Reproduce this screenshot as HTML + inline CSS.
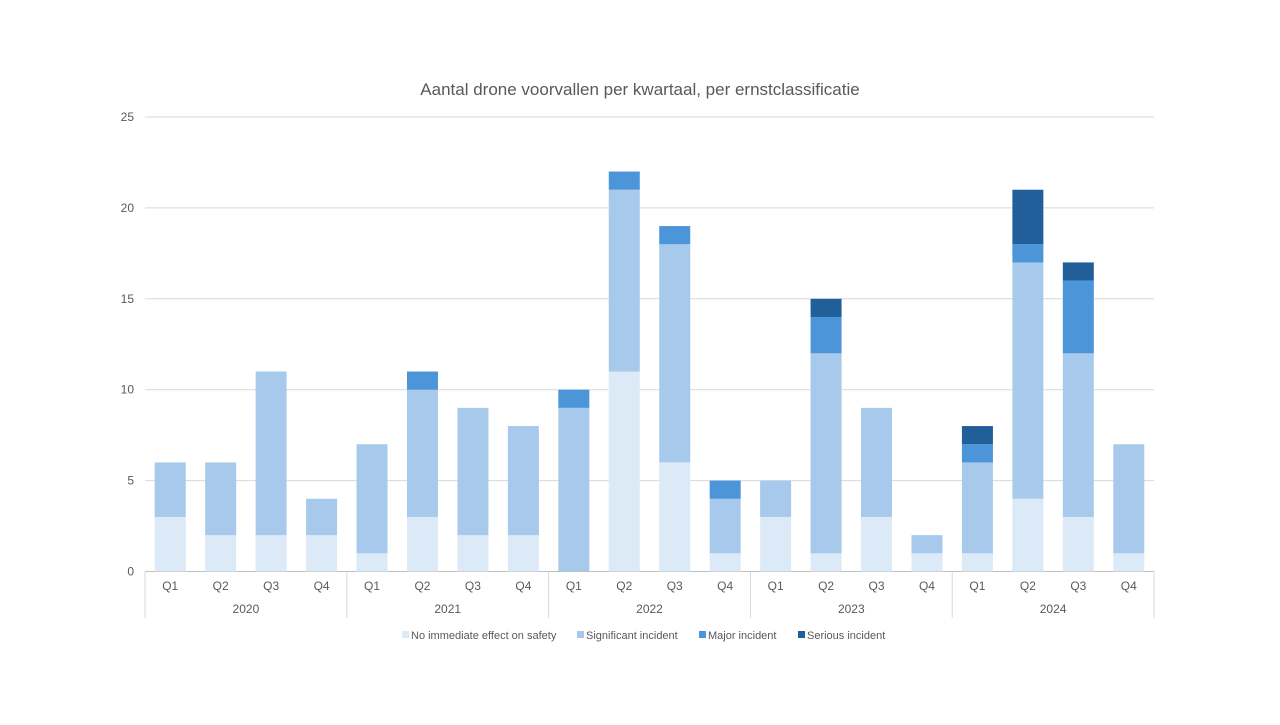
<!DOCTYPE html>
<html><head><meta charset="utf-8"><style>
body{margin:0;background:#fff;font-family:"Liberation Sans",sans-serif}
svg text{font-family:"Liberation Sans",sans-serif;fill:#595959}
</style></head><body>
<svg id="chart" width="1280" height="720" xmlns="http://www.w3.org/2000/svg">
<rect width="1280" height="720" fill="#fff"/>
<text x="640" y="95" text-anchor="middle" font-size="17">Aantal drone voorvallen per kwartaal, per ernstclassificatie</text>
<g id="grid"></g><g id="bars"></g><g id="axis"></g><g id="legend"></g>
</svg>
<script>
const years=["2020","2021","2022","2023","2024"];
const quarters=["Q1","Q2","Q3","Q4"];
const seriesNames=["No immediate effect on safety","Significant incident","Major incident","Serious incident"];
const noEffect=[3,2,2,2, 1,3,2,2, 0,11,6,1, 3,1,3,1, 1,4,3,1];
const significant=[3,4,9,2, 6,7,7,6, 9,10,12,3, 2,11,6,1, 5,13,9,6];
const major=[0,0,0,0, 0,1,0,0, 1,1,1,1, 0,2,0,0, 1,1,4,0];
const serious=[0,0,0,0, 0,0,0,0, 0,0,0,0, 0,1,0,0, 1,3,1,0];
const yTicks=[0,5,10,15,20,25];
const colors=["#dce9f6","#a7caec","#4d95d9","#215f9a"];
const NS="http://www.w3.org/2000/svg";
const x0=145,x1=1154,yb=571.5,yt=117,ymax=25;
const n=years.length*quarters.length,cw=(x1-x0)/n,bw=31;
const y=v=>yb-(yb-yt)*v/ymax;
function mk(tag,attrs,parent){const e=document.createElementNS(NS,tag);for(const k in attrs)e.setAttribute(k,attrs[k]);parent.appendChild(e);return e;}
const G=document.getElementById("grid"),B=document.getElementById("bars"),A=document.getElementById("axis"),L=document.getElementById("legend");
yTicks.forEach(t=>{
 const l=mk("line",{x1:x0,x2:x1,y1:y(t),y2:y(t),stroke:t===0?"#bfbfbf":"#d9d9d9","stroke-width":1},G);
 
 
 const tx=mk("text",{x:134,y:y(t)+4,"text-anchor":"end","font-size":12},A);tx.textContent=t;
 
 
});
const all=[noEffect,significant,major,serious];
for(let i=0;i<n;i++){
 let acc=0;const cx=x0+cw*(i+0.5);
 all.forEach((s,si)=>{const v=s[i];if(v>0){
  const r=mk("rect",{x:cx-bw/2,y:y(acc+v),width:bw,height:y(acc)-y(acc+v),fill:colors[si]},B);
  
  
 }acc+=v;});
 const q=mk("text",{x:cx,y:590,"text-anchor":"middle","font-size":12},A);q.textContent=quarters[i%4];
 
 
}
for(let j=0;j<=years.length;j++){
 const xx=x0+cw*4*j;
 const l=mk("line",{x1:xx,x2:xx,y1:yb,y2:618,stroke:"#d9d9d9"},A);
 
 
 if(j<years.length){const t=mk("text",{x:xx+cw*2,y:613,"text-anchor":"middle","font-size":12},A);t.textContent=years[j];
 
 }
}
const lx=[402,577,699,798];
seriesNames.forEach((nm,i)=>{
 const g=mk("g",{},L);
 
 
 mk("rect",{x:lx[i],y:631,width:7,height:7,fill:colors[i]},g);
 const t=mk("text",{x:lx[i]+9,y:639,"font-size":11},g);t.textContent=nm;
});
</script>
</body></html>
